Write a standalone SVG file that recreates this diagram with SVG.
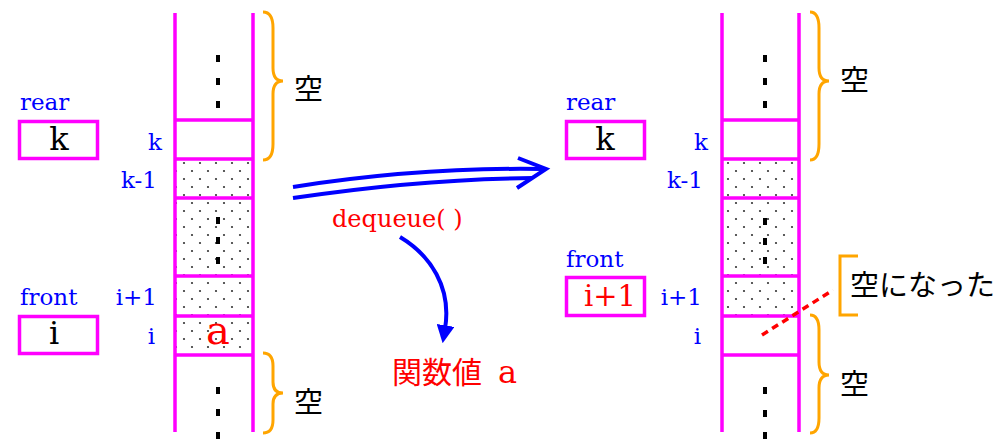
<svg xmlns="http://www.w3.org/2000/svg" width="1005" height="439" viewBox="0 0 1005 439">
<style>
.col{stroke:#FF00FF;stroke-width:3.5;fill:none}
.box{stroke:#FF00FF;stroke-width:3.5;fill:#fff}
.brace{stroke:#FFA500;stroke-width:3;fill:none}
.lbl{font-family:"DejaVu Serif",serif;font-size:23px;fill:#0000FF}
.val{font-family:"DejaVu Serif",serif;font-size:32px;fill:#000}
.jp{font-family:"Noto Sans CJK JP",sans-serif;font-size:29px;fill:#000}
.dot{fill:#000}
.conn{stroke:#0000FF;stroke-width:4;fill:none}
</style>
<defs>
<pattern id="stip" patternUnits="userSpaceOnUse" width="16" height="16">
<circle cx="8" cy="3" r="1.1" fill="#333"/>
<circle cx="0" cy="11" r="1.1" fill="#333"/>
<circle cx="16" cy="11" r="1.1" fill="#333"/>
</pattern>
<marker id="tri" viewBox="0 0 10 10" refX="2" refY="5" markerWidth="4.5" markerHeight="4.5" orient="auto" markerUnits="strokeWidth">
<path d="M0,0 L10,5 L0,10 z" fill="#0000FF"/>
</marker>
</defs>
<rect width="1005" height="439" fill="#fff"/>

<g id="queue-before">
<rect x="175" y="159" width="78" height="196" fill="url(#stip)"/>
<path class="col" d="M175,13 V432 M253,13 V432 M175,120 H253 M175,159 H253 M175,198 H253 M175,276 H253 M175,316 H253 M175,355 H253"/>
<g class="dot">
<rect x="216" y="55" width="4" height="7"/><rect x="216" y="78" width="4" height="7"/><rect x="216" y="101" width="4" height="7"/>
<rect x="216" y="217" width="4" height="7"/><rect x="216" y="237" width="4" height="7"/><rect x="216" y="257" width="4" height="7"/>
<rect x="216" y="387" width="4" height="7"/><rect x="216" y="409" width="4" height="7"/><rect x="216" y="432" width="4" height="7"/>
</g>
<text x="218" y="344" text-anchor="middle" font-family="DejaVu Serif, serif" font-size="40" fill="#FF0000">a</text>
<text class="lbl" x="162" y="150" text-anchor="end">k</text>
<text class="lbl" x="157" y="188" text-anchor="end">k-1</text>
<text class="lbl" x="157" y="305" text-anchor="end">i+1</text>
<text class="lbl" x="155" y="344" text-anchor="end">i</text>
<path class="brace" d="M263,12 Q273,12 273,28 L273,68 Q273,81 283,81 Q273,81 273,94 L273,144 Q273,160 263,160"/>
<text class="jp" x="294" y="100">空</text>
<path class="brace" d="M263,353 Q273,353 273,366 L273,382 Q273,393 283,393 Q273,393 273,404 L273,420 Q273,433 263,433"/>
<text class="jp" x="294" y="413">空</text>
</g>

<g id="rear-before">
<text class="lbl" x="20" y="110">rear</text>
<rect class="box" x="19.5" y="121.5" width="78" height="37"/>
<text class="val" x="59" y="150" text-anchor="middle">k</text>
</g>

<g id="front-before">
<text class="lbl" x="20" y="305">front</text>
<rect class="box" x="19.5" y="316.5" width="78" height="37"/>
<text class="val" x="54" y="344" text-anchor="middle">i</text>
</g>

<g id="queue-after">
<rect x="722" y="159" width="77" height="157" fill="url(#stip)"/>
<path class="col" d="M722,13 V432 M799,13 V432 M722,120 H799 M722,159 H799 M722,198 H799 M722,276 H799 M722,316 H799 M722,355 H799"/>
<g class="dot">
<rect x="763" y="55" width="4" height="7"/><rect x="763" y="78" width="4" height="7"/><rect x="763" y="101" width="4" height="7"/>
<rect x="763" y="218" width="4" height="7"/><rect x="763" y="238" width="4" height="7"/><rect x="763" y="257" width="4" height="7"/>
<rect x="763" y="387" width="4" height="7"/><rect x="763" y="410" width="4" height="7"/><rect x="763" y="432" width="4" height="7"/>
</g>
<text class="lbl" x="708" y="150" text-anchor="end">k</text>
<text class="lbl" x="703" y="188" text-anchor="end">k-1</text>
<text class="lbl" x="702" y="305" text-anchor="end">i+1</text>
<text class="lbl" x="701" y="344" text-anchor="end">i</text>
<path class="brace" d="M810,12 Q819,12 819,28 L819,68 Q819,81 829,81 Q819,81 819,94 L819,144 Q819,160 810,160"/>
<text class="jp" x="840" y="91">空</text>
<path class="brace" d="M810,315 Q819,315 819,330 L819,362 Q819,375 829,375 Q819,375 819,388 L819,418 Q819,433 810,433"/>
<text class="jp" x="840" y="395">空</text>
<path class="brace" d="M858,256 H840 V315 H858"/>
<text class="jp" x="850" y="296" font-size="31">空になった</text>
<line x1="762" y1="335" x2="833" y2="290" stroke="#FF0000" stroke-width="3.5" stroke-dasharray="7,5"/>
</g>

<g id="rear-after">
<text class="lbl" x="566" y="110">rear</text>
<rect class="box" x="566.5" y="121.5" width="78" height="37"/>
<text class="val" x="605" y="150" text-anchor="middle">k</text>
</g>

<g id="front-after">
<text class="lbl" x="566" y="267">front</text>
<rect class="box" x="566.5" y="277.5" width="78" height="38"/>
<text x="610" y="306" text-anchor="middle" font-family="DejaVu Serif, serif" font-size="29" fill="#FF0000">i+1</text>
</g>

<g id="connectors">
<path class="conn" d="M293,187 Q420,167 543,169"/>
<path class="conn" d="M293,198 Q420,179 533,178"/>
<path class="conn" d="M518,158 L546,169 L517,188"/>
<path class="conn" d="M400,237 C430,255 452,287 445,329" marker-end="url(#tri)"/>
</g>

<g id="labels">
<text x="332" y="227" font-family="DejaVu Serif, serif" font-size="24" fill="#FF0000">dequeue( )</text>
<text x="392" y="383" font-family="Noto Sans CJK JP, sans-serif" font-size="30" fill="#FF0000">関数値<tspan x="498" font-family="DejaVu Serif, serif" font-size="32">a</tspan></text>
</g>
</svg>
